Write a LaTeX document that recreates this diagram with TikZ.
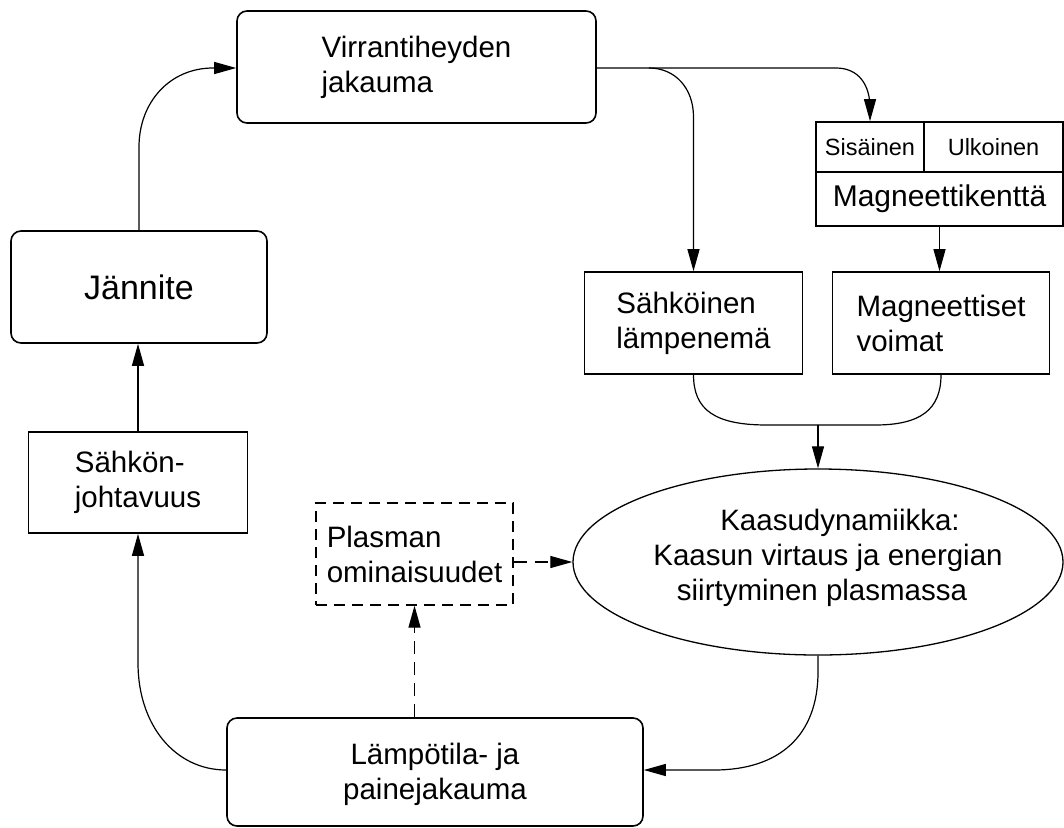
\documentclass[tikz,border=0pt]{standalone}
\usepackage{fontspec}
\setmainfont{Liberation Sans}
\usetikzlibrary{arrows.meta,shapes.geometric,calc}
\begin{document}
\begin{tikzpicture}[x=1pt,y=-1pt,
  txt/.style={font=\fontsize{29.5}{35}\selectfont},
  box/.style={draw,line width=1.6pt,inner sep=0pt,align=left,txt},
  rbox/.style={box,rounded corners=10pt},
  dbox/.style={box,line width=1.2pt,dash pattern=on 11pt off 7pt},
  conn/.style={line width=1.2pt},
  arr/.style={conn,-{Triangle[length=22pt,width=12pt]}},
  darr/.style={arr,dash pattern=on 13pt off 8pt}
]
\useasboundingbox (0,0) rectangle (1064,827);

% nodes
\node[rbox,minimum width=359pt,minimum height=112pt] (tb) at (416.5,67) {Virrantiheyden\\jakauma};
\node[rbox,minimum width=256pt,minimum height=112pt,font=\fontsize{34}{40}\selectfont] (jn) at (139,287) {Jännite};
\node[box,minimum width=219pt,minimum height=101pt] (sj) at (138,482.5) {Sähkön-\\johtavuus};
\node[box,minimum width=218pt,minimum height=102pt] (sl) at (693.5,323) {Sähköinen\\lämpenemä};
\node[box,minimum width=217pt,minimum height=102pt] (mv) at (941,323) {Magneettiset\\voimat};
\node[box,minimum width=108pt,minimum height=50pt,font=\fontsize{23.5}{28}\selectfont] (sis) at (870,147) {Sisäinen};
\node[box,minimum width=139pt,minimum height=50pt,font=\fontsize{23.5}{28}\selectfont] (ulk) at (993.5,147) {Ulkoinen};
\node[box,minimum width=247pt,minimum height=54pt,font=\fontsize{30}{36}\selectfont] (mk) at (939.5,199) {Magneettikenttä};
\node[dbox,minimum width=197pt,minimum height=102pt] (pl) at (414.5,554) {Plasman\\ominaisuudet};
\node[rbox,minimum width=416pt,minimum height=108pt] (lt) at (435,772) {};
\node[txt,align=center] (ltx) at (435,774) {Lämpötila- ja\\painejakauma};
\node[draw,ellipse,line width=1.3pt,minimum width=490pt,minimum height=186pt,inner sep=0pt] (ell) at (818,562) {};
\node[txt,align=center] (ellx) at (828,558) {\hspace*{24pt}Kaasudynamiikka:\\Kaasun virtaus ja energian\\siirtyminen plasmassa\hspace*{12pt}};

% connectors
\coordinate (j1) at (139,147);
\coordinate (j2) at (213,68);
\draw[arr] (jn.north) -- (j1) .. controls (139,102) and (170,68) .. (j2) -- (tb.west |- j2);

\coordinate (t0) at (tb.east |- j2);
\coordinate (t1) at (836,68);
\coordinate (t2) at (870,108);
\draw[arr] (t0) -- (t1) .. controls (858,68) and (870,84) .. (t2) -- (sis.north);

\coordinate (b1) at (649,68);
\coordinate (b2) at (693.5,117);
\draw[arr] (b1) .. controls (675,68) and (693.5,88) .. (b2) -- (sl.north);

\draw[arr] (mk.south) -- (mk.south |- mv.north);

\coordinate (m0) at (818,425);
\coordinate (m1) at (767,425);
\coordinate (m2) at (875,425);
\draw[conn] (sl.south) .. controls (693.5,410) and (715,425) .. (m1) -- (m0);
\draw[conn] (mv.south) .. controls (941,410) and (920,425) .. (m2) -- (m0);
\draw[arr] (m0) -- (ell.north);

\coordinate (e1) at (818,672);
\coordinate (e2) at (714,770);
\draw[arr] (ell.south) -- (e1) .. controls (818,735) and (780,770) .. (e2) -- (lt.east |- e2);

\draw[darr] (pl.south |- lt.north) -- (pl.south);
\coordinate (p1) at (pl.east |- ell.west);
\draw[darr] (p1) -- (ell.west);

\coordinate (s0) at (lt.west |- e2);
\coordinate (s1) at (138,663);
\draw[arr] (s0) .. controls (175,770) and (138,725) .. (s1) -- (sj.south);
\draw[arr] (sj.north) -- (sj.north |- jn.south);
\end{tikzpicture}
\end{document}
